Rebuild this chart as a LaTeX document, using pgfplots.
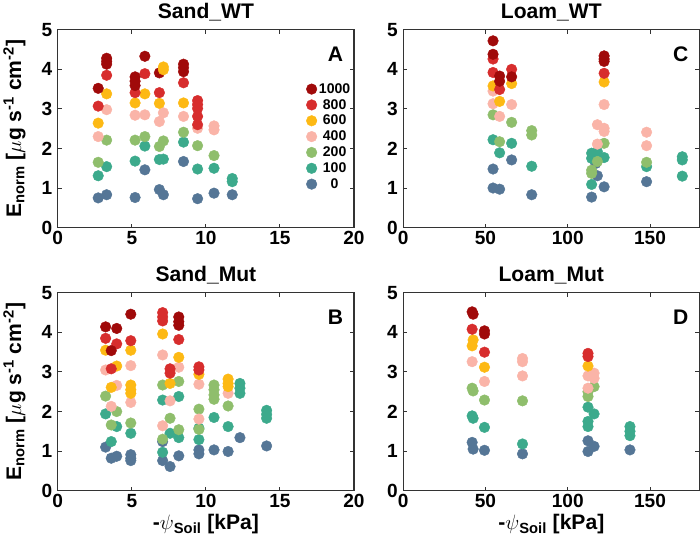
\documentclass[border=0pt]{standalone}
\usepackage{fontspec}
\setmainfont{Liberation Sans}
\usepackage{pgfplots}
\pgfplotsset{compat=1.18}
\usepgfplotslibrary{groupplots}

\definecolor{c1000}{RGB}{160,10,10}
\definecolor{c800}{RGB}{215,45,45}
\definecolor{c600}{RGB}{253,185,20}
\definecolor{c400}{RGB}{250,180,168}
\definecolor{c200}{RGB}{143,190,108}
\definecolor{c100}{RGB}{60,170,140}
\definecolor{c0}{RGB}{85,118,150}

\pgfplotsset{
  panel/.style={
    width=295pt, height=197pt, scale only axis,
    ymin=0, ymax=5, ytick={0,1,2,3,4,5},
    axis line style={line width=1.2pt, black!80},
    every tick/.style={black!80, line width=1pt},
    major tick length=4pt,
    tick label style={font=\fontsize{19}{21}\selectfont\bfseries},
    yticklabel style={xshift=-2pt},
    /pgf/number format/assume math mode=true,
    title style={font=\fontsize{21}{23}\selectfont\bfseries, yshift=-1pt},
    label style={font=\fontsize{21}{23}\selectfont\bfseries},
    ylabel shift=9pt,
  },
  sand/.style={xmin=0, xmax=20, xtick={0,5,10,15,20}},
  loam/.style={xmin=0, xmax=180, xtick={0,50,100,150}},
  pt/.style={only marks, mark=*, mark size=5.3pt, color=#1, mark options={draw=none, fill=#1}},
}
\tikzset{letter/.style={anchor=north east, font=\fontsize{21}{23}\selectfont\bfseries}}

\begin{document}
\begin{tikzpicture}
\begin{groupplot}[
  group style={group size=2 by 2, horizontal sep=49pt, vertical sep=65pt},
  panel
]
% ---- A: Sand_WT
\nextgroupplot[sand, title={Sand\_WT},
  ylabel={E\textsubscript{norm} [$\mu$g s\textsuperscript{-1} cm\textsuperscript{-2}]},
  reverse legend,
  legend style={at={(rel axis cs:1.005,0.75)}, anchor=north east, draw=none, fill=none,
    font=\fontsize{14}{15}\selectfont\bfseries, row sep=0.5pt},
  legend cell align=center]
\addplot[pt=c0] coordinates {(2.73,0.75) (3.30,0.83) (5.22,0.76) (5.88,1.46) (6.86,0.96) (7.13,0.83) (8.49,1.67) (9.44,0.73) (10.55,0.87) (11.78,0.83)};
\addplot[pt=c100] coordinates {(2.73,1.31) (3.30,1.54) (5.22,1.68) (5.88,2.06) (6.86,1.72) (7.13,1.73) (8.49,2.16) (9.44,1.48) (10.55,1.50) (11.78,1.24) (11.78,1.16)};
\addplot[pt=c200] coordinates {(2.73,1.65) (3.30,2.21) (5.22,2.21) (5.88,2.30) (6.86,2.05) (7.13,2.19) (8.49,2.41) (9.44,2.07) (10.55,1.82)};
\addplot[pt=c400] coordinates {(2.73,2.30) (3.30,2.98) (5.22,2.84) (5.88,2.85) (6.86,2.68) (7.13,2.90) (8.49,2.81) (9.44,2.51) (10.55,2.57) (10.55,2.47)};
\addplot[pt=c600] coordinates {(2.73,2.64) (3.30,3.38) (5.22,3.15) (5.88,3.38) (6.86,3.14) (8.49,3.15)};
\addplot[pt=c800] coordinates {(2.73,3.07) (3.30,3.85) (5.22,3.41) (5.88,3.89) (6.86,3.41) (8.49,3.66) (9.44,3.21) (9.44,3.11) (9.44,3.01) (9.44,2.81) (9.44,2.60)};
\addplot[pt=c1000] coordinates {(2.73,3.52) (3.30,4.28) (3.30,4.20) (3.30,4.13) (5.22,3.81) (5.22,3.70) (5.22,3.59) (5.88,4.33) (6.86,3.91) (8.49,4.13) (8.49,4.04) (8.49,3.94)};
\addplot[pt=c600, forget plot] coordinates {(7.13,4.06) (7.13,3.99)};
\legend{0,100,200,400,600,800,1000}
\node[letter] at (rel axis cs:0.975,0.93) {A};

% ---- C: Loam_WT
\nextgroupplot[loam, title={Loam\_WT}]
\addplot[pt=c0] coordinates {(54.6,1.48) (54.6,1.00) (58.6,0.97) (65.9,1.71) (78.1,0.83) (114.5,0.77) (117,1.62) (118,1.31) (122.1,1.03) (147.9,1.16)};
\addplot[pt=c100] coordinates {(54.6,2.22) (58.6,1.89) (65.9,2.13) (78.1,1.55) (114.5,1.88) (114.5,1.75) (114.5,1.09) (118,1.92) (122.1,1.77) (147.9,1.54) (169.6,1.79) (169.6,1.71) (169.6,1.30)};
\addplot[pt=c200] coordinates {(54.6,2.85) (58.6,2.17) (65.9,2.66) (78.1,2.45) (78.1,2.34) (114.5,1.45) (114.5,1.37) (118,1.67) (122.1,2.13) (147.9,1.65)};
\addplot[pt=c400] coordinates {(54.6,3.45) (54.6,3.13) (58.6,2.81) (65.9,3.11) (118,2.60) (118,2.11) (122.1,3.11) (122.1,2.51) (122.1,2.43) (147.9,2.41) (147.9,2.07)};
\addplot[pt=c600] coordinates {(54.6,3.58) (58.6,3.19) (65.9,3.64) (122.1,3.68)};
\addplot[pt=c800] coordinates {(54.6,4.26) (54.6,3.92) (58.6,3.49) (65.9,4.00) (122.1,3.90)};
\addplot[pt=c1000] coordinates {(54.6,4.72) (54.6,4.38) (58.6,3.83) (58.6,3.70) (65.9,3.81) (122.1,4.34) (122.1,4.26) (122.1,4.20)};
\node[letter] at (rel axis cs:0.975,0.93) {C};

% ---- B: Sand_Mut
\nextgroupplot[sand, title={Sand\_Mut},
  ylabel={E\textsubscript{norm} [$\mu$g s\textsuperscript{-1} cm\textsuperscript{-2}]},
  xlabel={-$\psi$\textsubscript{Soil} [kPa]}]
\addplot[pt=c0] coordinates {(3.23,1.10) (3.61,0.82) (3.98,0.87) (4.93,0.91) (4.93,0.82) (4.93,0.76) (7.08,1.24) (7.08,0.76) (7.58,0.61) (8.17,0.88) (9.53,1.03) (9.53,0.93) (10.55,1.03) (11.5,0.99) (12.3,1.34) (14.1,1.13)};
\addplot[pt=c100] coordinates {(3.23,1.94) (3.61,1.24) (3.98,1.62) (4.93,1.45) (7.08,2.29) (7.08,0.97) (7.58,1.45) (8.17,2.38) (8.17,1.34) (9.53,1.29) (9.53,1.58) (10.55,1.85) (11.5,1.62) (12.3,2.71) (12.3,2.59) (12.3,2.46) (14.1,2.03) (14.1,1.93) (14.1,1.83)};
\addplot[pt=c200] coordinates {(3.23,2.39) (3.61,1.66) (3.98,2.00) (4.93,1.71) (7.08,2.67) (7.08,1.30) (7.58,1.83) (8.17,2.76) (8.17,1.54) (9.53,2.06) (9.53,1.55) (10.55,2.67) (10.55,2.55) (10.55,2.42) (10.55,2.31) (11.5,2.14)};
\addplot[pt=c400] coordinates {(3.23,3.05) (3.61,2.13) (3.98,2.66) (4.93,3.16) (4.93,2.23) (7.08,3.43) (7.08,1.64) (7.58,2.27) (8.17,3.12) (9.53,2.69) (9.53,1.81) (11.5,2.46)};
\addplot[pt=c600] coordinates {(3.23,3.55) (3.61,2.61) (3.98,3.15) (4.93,3.55) (4.93,2.67) (4.93,2.55) (4.93,2.46) (7.08,3.96) (7.58,2.71) (8.17,3.37) (9.53,2.94) (11.5,2.82) (11.5,2.71) (11.5,2.63)};
\addplot[pt=c800] coordinates {(3.23,3.85) (3.61,3.08) (3.98,3.71) (4.93,3.79) (7.08,4.50) (7.08,4.39) (7.08,4.29) (7.58,3.08) (7.58,2.97) (8.17,3.82) (9.53,3.13) (9.53,3.05)};
\addplot[pt=c1000] coordinates {(3.23,4.14) (3.61,3.54) (3.98,4.10) (4.93,4.46) (8.17,4.39) (8.17,4.27) (8.17,4.18)};
\node[letter] at (rel axis cs:0.975,0.93) {B};

% ---- D: Loam_Mut
\nextgroupplot[loam, title={Loam\_Mut}, xlabel={-$\psi$\textsubscript{Soil} [kPa]}]
\addplot[pt=c0] coordinates {(41.9,1.22) (42.5,1.05) (49.4,1.02) (72.5,0.93) (112.3,1.26) (112.3,0.99) (116,1.12) (137.8,1.03)};
\addplot[pt=c100] coordinates {(41.9,1.89) (42.5,1.83) (49.4,1.60) (72.5,1.18) (112.3,2.11) (112.3,1.75) (112.3,1.62) (116,1.94) (137.8,1.62) (137.8,1.50) (137.8,1.39)};
\addplot[pt=c200] coordinates {(41.9,2.59) (42.5,2.52) (49.4,2.29) (72.5,2.27) (112.3,2.50) (112.3,2.38) (116,2.63)};
\addplot[pt=c400] coordinates {(41.9,3.26) (49.4,2.76) (72.5,3.34) (72.5,3.26) (72.5,2.90) (112.3,2.90) (112.3,2.59) (116,2.97) (116,2.84)};
\addplot[pt=c600] coordinates {(42.5,3.81) (41.9,3.66) (49.4,3.12) (112.3,3.15)};
\addplot[pt=c800] coordinates {(41.9,4.08) (49.4,3.50) (112.3,3.47) (112.3,3.39)};
\addplot[pt=c1000] coordinates {(41.9,4.52) (42.5,4.46) (49.4,4.04) (49.4,3.96)};
\node[letter] at (rel axis cs:0.975,0.93) {D};
\end{groupplot}
\end{tikzpicture}
\end{document}
